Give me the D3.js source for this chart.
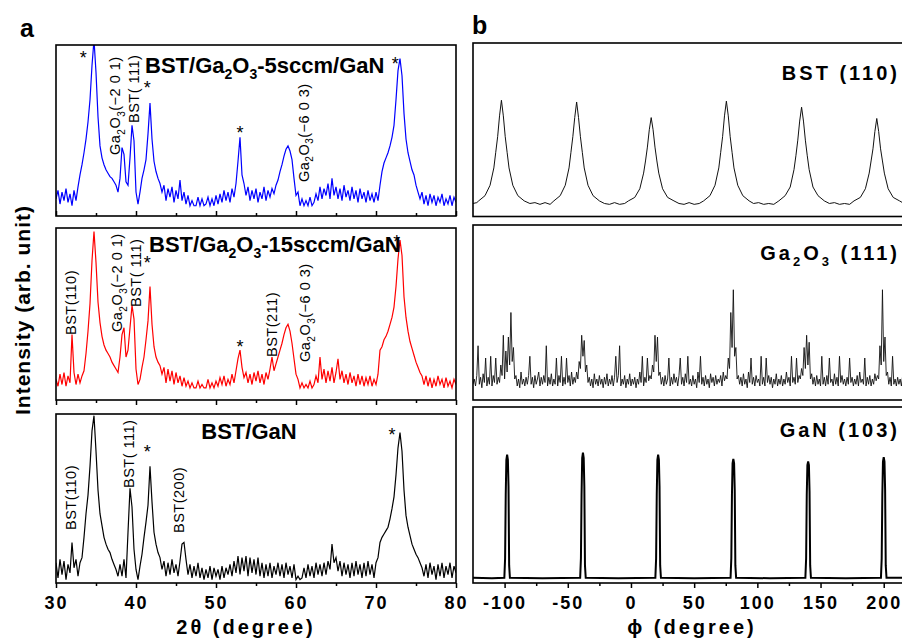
<!DOCTYPE html>
<html>
<head>
<meta charset="utf-8">
<script src="https://cdn.jsdelivr.net/npm/d3@7/dist/d3.min.js"></script>
<style>
  body { margin: 0; background: #fff; }
  svg { display: block; font-family: "Liberation Sans", Arial, sans-serif; }
  .frame { fill: none; stroke: #000; stroke-width: 1.6; }
  .tick-label { font-size: 18px; font-weight: bold; letter-spacing: 2px; }
  .axis-title { font-size: 20px; font-weight: bold; letter-spacing: 3px; }
  .panel-letter { font-size: 25px; font-weight: bold; }
  .sample-title { font-size: 22px; font-weight: bold; }
  .phi-title { font-size: 20px; font-weight: bold; letter-spacing: 3px; }
  .peak-note { font-size: 14.5px; letter-spacing: 0.5px; }
  .star { font-size: 18px; }
</style>
</head>
<body>
<svg id="chart" width="902" height="644"></svg>
<script>
// 2theta scans, one value every 0.25 deg from 30 to 80 (percent of panel height)
const TWO_THETA_START = 30
const TWO_THETA_STEP = 0.25

const scan5sccm = [
  10, 15, 7, 14, 9, 16, 8, 13,
  6, 15, 9, 17, 24, 30, 37, 45,
  55, 68, 88, 103, 84, 58, 41, 34,
  30, 27, 25, 23, 22, 20, 18, 14,
  22, 40, 36, 20, 18, 34, 53, 44,
  14, 7, 14, 22, 27, 33, 48, 66,
  45, 32, 26, 22, 19, 14, 18, 9,
  16, 11, 17, 8, 15, 10, 21, 9,
  14, 7, 12, 6, 9, 6, 6, 11,
  6, 10, 6, 7, 11, 6, 10, 6,
  12, 7, 13, 8, 15, 9, 14, 8,
  16, 11, 19, 32, 46, 24, 19, 12,
  17, 9, 15, 10, 16, 8, 14, 10,
  17, 9, 15, 11, 16, 13, 18, 21,
  26, 30, 35, 39, 41, 38, 33, 22,
  12, 14, 6, 10, 6, 9, 6, 11,
  6, 8, 13, 9, 17, 10, 16, 12,
  19, 10, 22, 12, 17, 10, 16, 9,
  18, 11, 15, 9, 17, 10, 15, 8,
  16, 10, 14, 8, 15, 9, 13, 8,
  14, 9, 18, 26, 31, 34, 37, 41,
  46, 53, 68, 85, 92, 82, 60, 45,
  37, 32, 27, 24, 18, 14, 10, 14,
  7, 12, 6, 13, 8, 12, 6, 11,
  8, 13, 6, 10, 7, 12, 6, 11,
  8
]

const scan15sccm = [
  12, 8, 15, 9, 16, 8, 14, 10,
  38, 16, 9, 15, 10, 14, 17, 27,
  40, 56, 81, 98, 80, 57, 45, 37,
  32, 29, 27, 25, 22, 20, 18, 16,
  25, 38, 42, 25, 29, 42, 55, 47,
  18, 9, 12, 19, 25, 35, 46, 66,
  44, 31, 25, 22, 20, 15, 19, 10,
  18, 11, 17, 9, 16, 10, 14, 8,
  13, 8, 11, 7, 10, 7, 7, 11,
  7, 9, 7, 7, 12, 7, 10, 7,
  11, 8, 13, 9, 14, 8, 12, 9,
  15, 10, 17, 24, 29, 19, 13, 16,
  10, 15, 9, 16, 11, 17, 10, 15,
  9, 16, 12, 18, 25, 17, 21, 25,
  29, 33, 38, 42, 44, 40, 33, 24,
  15, 12, 7, 10, 7, 9, 7, 11,
  7, 9, 14, 10, 25, 12, 18, 10,
  17, 11, 19, 10, 16, 24, 12, 17,
  10, 15, 9, 16, 10, 14, 8, 15,
  9, 14, 8, 13, 9, 14, 8, 12,
  9, 15, 29, 31, 35, 37, 40, 44,
  48, 54, 66, 82, 93, 84, 60, 48,
  40, 34, 30, 26, 22, 19, 16, 14,
  9, 14, 8, 13, 7, 12, 8, 14,
  9, 12, 7, 13, 8, 11, 7, 12,
  9
]

const scanBare = [
  12, 3, 14, 5, 13, 2, 11, 6,
  24, 9, 14, 4, 12, 15, 27, 41,
  52, 69, 90, 99, 78, 55, 41, 34,
  27, 23, 20, 18, 14, 11, 8, 4,
  11, 4, 14, 3, 30, 56, 45, 20,
  8, 2, 10, 17, 27, 36, 46, 69,
  48, 30, 23, 18, 15, 8, 13, 4,
  12, 5, 14, 6, 11, 4, 13, 23,
  24, 14, 5, 11, 3, 10, 4, 12,
  3, 9, 2, 8, 3, 10, 2, 9,
  4, 8, 2, 10, 3, 9, 5, 11,
  4, 13, 6, 16, 5, 15, 7, 16,
  4, 15, 6, 14, 5, 15, 4, 12,
  3, 11, 4, 12, 3, 10, 5, 12,
  4, 11, 3, 12, 5, 10, 3, 11,
  2, 4, 2, 3, 9, 3, 11, 4,
  10, 3, 12, 5, 11, 4, 12, 5,
  13, 8, 23, 12, 15, 7, 13, 4,
  12, 5, 11, 3, 12, 4, 13, 5,
  11, 3, 12, 4, 13, 5, 11, 3,
  12, 15, 24, 27, 29, 31, 33, 38,
  44, 51, 64, 80, 89, 78, 55, 40,
  33, 28, 23, 20, 17, 15, 12, 9,
  4, 11, 3, 12, 5, 10, 2, 11,
  4, 12, 3, 10, 5, 12, 3, 10,
  6
]

// phi scans: [phi, percent of panel height]
const phiBst110 = [
  [-125, 7.5], [-122, 8],
  [-120.5, 9], [-115.5, 12], [-111.5, 18], [-108.5, 28], [-107, 37], [-105.5, 46], [-104, 58],
  [-102.5, 67], [-101, 58], [-99.5, 46], [-98, 37], [-96.5, 28], [-93.5, 18], [-89.5, 12], [-84.5, 9],
  [-80, 7.5], [-76, 8], [-72, 7], [-68, 8], [-64, 7],
  [-61, 9], [-56, 12], [-52, 18], [-49, 28], [-47.5, 37], [-46, 46], [-44.5, 57],
  [-43, 66], [-41.5, 57], [-40, 46], [-38.5, 37], [-37, 28], [-34, 18], [-30, 12], [-25, 9],
  [-21, 7.5], [-17, 7], [-13, 8], [-9, 7], [-5, 7.5],
  [-2, 9], [3, 11], [7, 16], [10, 25], [11.5, 32], [13, 40], [14.5, 50],
  [16, 57], [17.5, 50], [19, 40], [20.5, 32], [22, 25], [25, 16], [29, 11], [34, 9],
  [38, 7.5], [42, 7], [46, 8], [50, 7], [54, 7.5],
  [57.5, 9], [62.5, 12], [66.5, 18], [69.5, 28], [71, 37], [72.5, 46], [74, 58],
  [75.5, 66.5], [77, 58], [78.5, 46], [80, 37], [81.5, 28], [84.5, 18], [88.5, 12], [93.5, 9],
  [97, 7.5], [101, 8], [105, 7], [109, 7.5], [113, 7],
  [117, 9], [122, 12], [126, 17], [129, 27], [130.5, 35], [132, 44], [133.5, 55],
  [135, 63], [136.5, 55], [138, 44], [139.5, 35], [141, 27], [144, 17], [148, 12], [153, 9],
  [157, 7.5], [161, 8], [165, 7], [169, 7.5], [173, 7],
  [176.5, 9], [181.5, 11], [185.5, 16], [188.5, 25], [190, 32], [191.5, 39], [193, 49],
  [194.5, 56.5], [196, 49], [197.5, 39], [199, 32], [200.5, 25], [203.5, 16], [207.5, 11], [212.5, 9],
  [216, 7.5], [220, 7]
]

// Ga2O3 (111) phi scan, one value per degree from -125 to 220
const PHI_START = -125
const PHI_STEP = 1
const phiGa2o3 = [
  9, 12, 8, 14, 31, 9, 13, 7, 15, 10, 24, 8, 13, 9, 25, 8, 14, 10, 24, 9,
  13, 10, 20, 14, 37, 12, 28, 16, 36, 20, 50, 22, 30, 12, 14, 8, 12, 7, 16, 9,
  12, 8, 13, 9, 14, 25, 9, 13, 7, 14, 9, 12, 16, 8, 13, 9, 14, 10, 31, 8,
  13, 9, 15, 8, 12, 9, 24, 8, 14, 10, 25, 8, 13, 9, 24, 10, 14, 8, 16, 9,
  13, 10, 16, 12, 22, 18, 37, 25, 34, 16, 20, 10, 13, 8, 12, 7, 15, 9, 12, 8,
  14, 9, 12, 7, 13, 9, 15, 8, 12, 9, 14, 8, 13, 25, 10, 14, 31, 8, 12, 9,
  14, 7, 12, 9, 15, 8, 12, 9, 13, 7, 12, 9, 16, 10, 25, 8, 13, 10, 24, 11,
  14, 12, 20, 16, 37, 22, 36, 14, 16, 9, 13, 8, 14, 9, 12, 24, 8, 13, 9, 15,
  10, 13, 8, 14, 24, 9, 13, 8, 15, 10, 25, 9, 12, 8, 14, 9, 12, 7, 16, 10,
  25, 9, 13, 8, 14, 9, 12, 7, 15, 10, 13, 8, 14, 9, 12, 10, 14, 8, 16, 11,
  14, 12, 24, 18, 50, 30, 63, 25, 30, 12, 14, 9, 13, 8, 15, 9, 12, 7, 16, 10,
  24, 9, 13, 8, 14, 10, 12, 8, 25, 9, 13, 8, 24, 10, 14, 9, 13, 7, 12, 9,
  15, 8, 12, 9, 14, 8, 12, 9, 16, 10, 13, 8, 25, 10, 13, 9, 24, 10, 14, 12,
  18, 14, 30, 18, 37, 20, 33, 12, 15, 9, 13, 8, 14, 9, 12, 8, 25, 9, 13, 8,
  14, 9, 24, 10, 12, 8, 15, 9, 13, 8, 25, 10, 14, 9, 12, 8, 13, 9, 24, 10,
  13, 8, 12, 9, 14, 8, 16, 10, 12, 9, 24, 8, 13, 9, 14, 8, 12, 9, 15, 11,
  14, 12, 31, 20, 63, 22, 36, 14, 16, 9, 13, 8, 25, 9, 12, 8, 13, 9, 12, 8,
  14, 9, 12, 8, 13, 9
]

const phiGan103 = [
  [-125, 3], [-110, 2.7],
  [-100.2, 3], [-99.6, 14], [-99.1, 50], [-98.6, 70], [-98, 73], [-97.4, 70], [-96.9, 55], [-96.4, 10], [-95.8, 3],
  [-70, 2.7],
  [-40.2, 3], [-39.6, 14], [-39.1, 50], [-38.6, 71], [-38, 74], [-37.4, 71], [-36.9, 55], [-36.4, 10], [-35.8, 3],
  [-10, 2.7],
  [19.3, 3], [19.9, 14], [20.4, 50], [20.9, 70], [21.5, 73], [22.1, 70], [22.6, 55], [23.1, 10], [23.7, 3],
  [50, 2.7],
  [78.8, 3], [79.4, 14], [79.9, 50], [80.4, 68], [81, 70.5], [81.6, 68], [82.1, 53], [82.6, 10], [83.2, 3],
  [110, 2.7],
  [138, 3], [138.6, 14], [139.1, 50], [139.6, 67], [140.2, 69], [140.8, 67], [141.3, 52], [141.8, 10], [142.4, 3],
  [170, 2.7],
  [197.8, 3], [198.4, 14], [198.9, 50], [199.4, 69], [200, 71.5], [200.6, 69], [201.1, 53], [201.6, 10], [202.2, 3],
  [220, 3]
]

const twoThetaTicks = [30, 40, 50, 60, 70, 80]
const twoThetaMinor = [35, 45, 55, 65, 75]
const phiTicks = [-100, -50, 0, 50, 100, 150, 200]
const phiMinor = [-75, -25, 25, 75, 125, 175]

const $svg = d3.select('#chart')

const xA = d3.scaleLinear().domain([30, 80]).range([56, 456])
const xB = d3.scaleLinear().domain([-125, 220]).range([473, 909])

const GA2O3 = [['Ga', 0], ['2', 1], ['O', 0], ['3', 1]]

const panelsA = [
  {top: 45, bottom: 216, color: '#0000ff', tickSize: -5,
   scan: scan5sccm, title: [['BST/', 0], ...GA2O3, ['-5sccm/GaN', 0]], titleX: 145, titleDy: 28, anchor: 'start'},
  {top: 228, bottom: 400, color: '#ff0000', tickSize: 5,
   scan: scan15sccm, title: [['BST/', 0], ...GA2O3, ['-15sccm/GaN', 0]], titleX: 149, titleDy: 24, anchor: 'start'},
  {top: 414, bottom: 583, color: '#000000', tickSize: 5,
   scan: scanBare, title: [['BST/GaN', 0]], titleX: 249, titleDy: 25, anchor: 'middle'}
]

const panelsB = [
  {top: 43, bottom: 216.5, width: 1, color: '#111',
   points: phiBst110, title: [['BST (110)', 0]], titleDy: 37},
  {top: 225, bottom: 400, width: 0.9, color: '#111',
   points: phiGa2o3.map((v, i) => [PHI_START + i * PHI_STEP, v]),
   title: [...GA2O3, [' (111)', 0]], titleDy: 35},
  {top: 407, bottom: 583, width: 2, color: '#000',
   points: phiGan103, title: [['GaN (103)', 0]], titleDy: 30}
]

// rotated peak names: panel, 2theta of the text baseline, pixel y where text starts
const peakNotes = [
  {panel: 0, at: 38.0, y: 155, parts: [...GA2O3, ['(\u22122 0 1)', 0]]},
  {panel: 0, at: 40.4, y: 123, parts: [['BST( 111)', 0]]},
  {panel: 0, at: 61.6, y: 182, parts: [...GA2O3, ['(\u22126 0 3)', 0]]},
  {panel: 1, at: 32.5, y: 335, parts: [['BST(110)', 0]]},
  {panel: 1, at: 38.25, y: 332, parts: [...GA2O3, ['(\u22122 0 1)', 0]]},
  {panel: 1, at: 40.6, y: 307, parts: [['BST( 111)', 0]]},
  {panel: 1, at: 57.6, y: 357, parts: [['BST(211)', 0]]},
  {panel: 1, at: 61.75, y: 362, parts: [...GA2O3, ['(\u22126 0 3)', 0]]},
  {panel: 2, at: 32.5, y: 530, parts: [['BST(110)', 0]]},
  {panel: 2, at: 39.75, y: 488, parts: [['BST( 111)', 0]]},
  {panel: 2, at: 46.0, y: 533, parts: [['BST(200)', 0]]}
]

const stars = [
  {panel: 0, at: 33.4, level: 95}, {panel: 0, at: 41.4, level: 77},
  {panel: 0, at: 53.0, level: 51}, {panel: 0, at: 72.4, level: 91},
  {panel: 1, at: 41.4, level: 82}, {panel: 1, at: 53.0, level: 33},
  {panel: 1, at: 72.6, level: 94},
  {panel: 2, at: 41.4, level: 80}, {panel: 2, at: 72.0, level: 90}
]

function richText($t, parts, subSize) {
  parts.forEach(([txt, sub], i) => {
    const prevSub = i > 0 && parts[i - 1][1]
    const $ts = $t.append('tspan').text(txt)
    if (sub) $ts.attr('dy', subSize * 0.45).style('font-size', `${subSize}px`)
    else if (prevSub) $ts.attr('dy', -subSize * 0.45)
  })
}

function drawTrace(x, box, points, color, width, id) {
  const y = d3.scaleLinear().domain([0, 100]).range([box.bottom, box.top])
  $svg.append('clipPath').attr('id', id)
    .append('rect')
      .attr('x', x.range()[0]).attr('y', box.top)
      .attr('width', x.range()[1] - x.range()[0]).attr('height', box.bottom - box.top)
  $svg.append('path')
    .datum(points)
    .attr('clip-path', `url(#${id})`)
    .attr('fill', 'none')
    .attr('stroke', color)
    .attr('stroke-width', width)
    .attr('d', d3.line().x(d => x(d[0])).y(d => y(d[1])))
  return y
}

function drawTicks(x, y0, values, size, labelled) {
  const axis = d3.axisBottom(x)
    .tickValues(values)
    .tickSize(size)
    .tickFormat(labelled ? d => String(d) : '')
  const $ax = $svg.append('g')
    .attr('transform', `translate(0,${y0})`)
    .call(axis)
  $ax.select('.domain').remove()
  $ax.selectAll('line').attr('stroke', '#000').attr('stroke-width', 1.5)
  $ax.selectAll('text')
    .attr('class', 'tick-label')
    .attr('fill', '#000')
    .attr('y', 26).attr('dy', null)
    .attr('font-family', null).attr('font-size', null)
}

function drawFrame(x, box) {
  $svg.append('rect')
    .attr('class', 'frame')
    .attr('x', x.range()[0]).attr('y', box.top)
    .attr('width', x.range()[1] - x.range()[0])
    .attr('height', box.bottom - box.top)
}

function drawChart() {
  const yA = panelsA.map((p, i) => {
    const pts = p.scan.map((v, k) => [TWO_THETA_START + k * TWO_THETA_STEP, v])
    const y = drawTrace(xA, p, pts, p.color, 1.2, `clipA${i}`)
    drawTicks(xA, p.bottom, twoThetaTicks, p.tickSize, i === 2)
    drawTicks(xA, p.bottom, twoThetaMinor, p.tickSize * 0.6, false)
    drawFrame(xA, p)
    const $t = $svg.append('text')
      .attr('class', 'sample-title')
      .attr('x', p.titleX).attr('y', p.top + p.titleDy)
      .attr('text-anchor', p.anchor)
    richText($t, p.title, 14)
    return y
  })

  panelsB.forEach((p, i) => {
    drawTrace(xB, p, p.points, p.color, p.width, `clipB${i}`)
    if (i === 2) {
      drawTicks(xB, p.bottom, phiTicks, 5, true)
      drawTicks(xB, p.bottom, phiMinor, 3, false)
    }
    drawFrame(xB, p)
    const $t = $svg.append('text')
      .attr('class', 'phi-title')
      .attr('x', 900).attr('y', p.top + p.titleDy)
      .attr('text-anchor', 'end')
    richText($t, p.title, 13)
  })

  peakNotes.forEach(n => {
    const $t = $svg.append('text')
      .attr('class', 'peak-note')
      .attr('transform', `translate(${xA(n.at)},${n.y}) rotate(-90)`)
    richText($t, n.parts, 10)
  })

  stars.forEach(s => {
    $svg.append('text')
      .attr('class', 'star')
      .attr('text-anchor', 'middle')
      .attr('x', xA(s.at))
      .attr('y', yA[s.panel](s.level) + 10)
      .text('*')
  })

  $svg.append('text').attr('class', 'panel-letter').attr('x', 20).attr('y', 37).text('a')
  $svg.append('text').attr('class', 'panel-letter').attr('x', 472).attr('y', 34).text('b')

  $svg.append('text')
    .attr('class', 'axis-title')
    .attr('text-anchor', 'middle')
    .attr('x', 246).attr('y', 634)
    .text('2\u03b8 (degree)')
  $svg.append('text')
    .attr('class', 'axis-title')
    .attr('text-anchor', 'middle')
    .attr('x', 692).attr('y', 634)
    .text('\u03d5 (degree)')
  $svg.append('text')
    .attr('class', 'axis-title')
    .style('letter-spacing', '1px')
    .style('font-size', '21px')
    .attr('text-anchor', 'middle')
    .attr('transform', 'translate(30,310) rotate(-90)')
    .text('Intensity (arb. unit)')
}

drawChart()
</script>
</body>
</html>
